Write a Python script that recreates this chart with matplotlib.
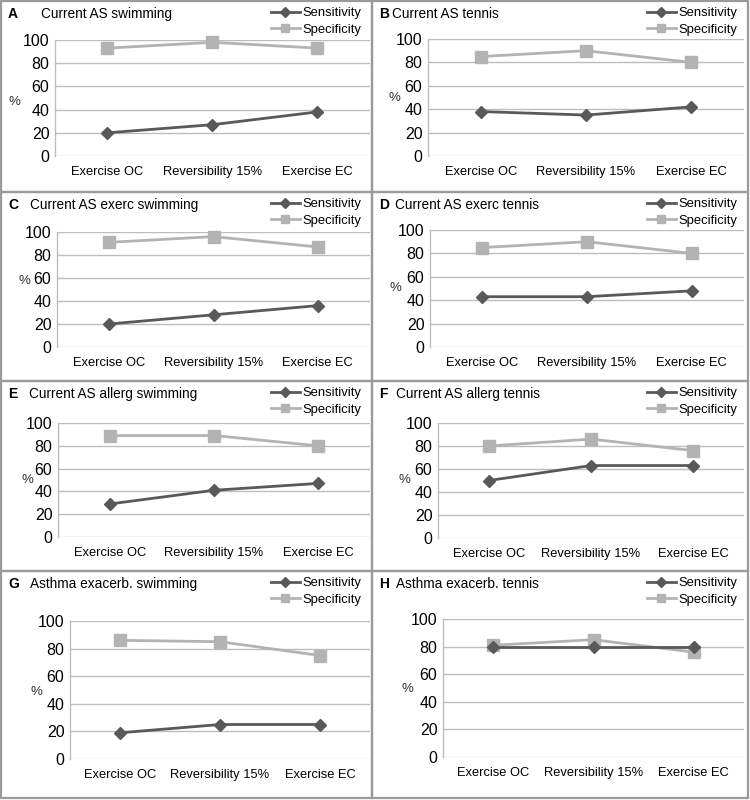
import matplotlib
matplotlib.use("Agg")
import matplotlib.pyplot as plt
from matplotlib.patches import Rectangle

plt.rcParams['font.family'] = ['Liberation Sans', 'DejaVu Sans']

# data
categories = ['Exercise OC', 'Reversibility 15%', 'Exercise EC']
letters = ['A', 'B', 'C', 'D', 'E', 'F', 'G', 'H']
titles = ['Current AS swimming', 'Current AS tennis',
          'Current AS exerc swimming', 'Current AS exerc tennis',
          'Current AS allerg swimming', 'Current AS allerg tennis',
          'Asthma exacerb. swimming', 'Asthma exacerb. tennis']
sensitivity = [
    [20, 27, 38],
    [38, 35, 42],
    [20, 28, 36],
    [43, 43, 48],
    [29, 41, 47],
    [50, 63, 63],
    [19, 25, 25],
    [80, 80, 80],
]
specificity = [
    [93, 98, 93],
    [85, 90, 80],
    [91, 96, 87],
    [85, 90, 80],
    [89, 89, 80],
    [80, 86, 76],
    [86, 85, 75],
    [81, 85, 76],
]
yticks = [0, 20, 40, 60, 80, 100]

W, H = 750, 800
SENS_COLOR = '#595959'
SPEC_COLOR = '#b3b3b3'
GRID_COLOR = '#bdbdbd'
BORDER_COLOR = '#9a9a9a'

# panel frames (pixels, top-left origin)
col_edges = [(1, 372), (372, 748)]
row_edges = [(1, 192), (192, 381), (381, 571), (571, 798)]

# plot areas: left, right, y of 100, y of 0
plot_boxes = [
    (55, 370, 40, 156), (428, 744, 39, 156),
    (57, 370, 232, 347), (430, 744, 230, 347),
    (58, 370, 423, 537), (438, 744, 423, 538),
    (70, 370, 621, 759), (443, 744, 619, 757),
]
title_x = [40, 20, 29, 23, 28, 24, 29, 24]
pct_pos = [(14, 102), (394, 98), (24, 281), (395, 288),
           (27, 480), (404, 480), (36, 692), (407, 689)]


def fx(x):
    return x / W


def fy(y):
    return 1 - y / H


fig = plt.figure(figsize=(W / 100, H / 100), dpi=100)

for i in range(8):
    r, c = divmod(i, 2)
    x0, x1 = col_edges[c]
    y0, y1 = row_edges[r]
    fig.patches.append(Rectangle((fx(x0), fy(y1)), fx(x1 - x0), (y1 - y0) / H,
                                 transform=fig.transFigure, fill=False,
                                 edgecolor=BORDER_COLOR, linewidth=1.6))

    l, rr, t, b = plot_boxes[i]
    ax = fig.add_axes([fx(l), fy(b), fx(rr - l), (b - t) / H])
    xs = range(len(categories))
    ax.plot(xs, specificity[i], color=SPEC_COLOR, lw=2.0, marker='s', ms=8,
            label='Specificity', clip_on=False, zorder=3)
    ax.plot(xs, sensitivity[i], color=SENS_COLOR, lw=2.0, marker='D', ms=6,
            label='Sensitivity', clip_on=False, zorder=4)

    ax.set_xlim(-0.5, 2.5)
    ax.set_ylim(0, 100)
    ax.set_yticks(yticks)
    ax.set_xticks(list(xs))
    ax.set_xticklabels(categories, fontsize=9.3)
    ax.tick_params(axis='y', length=0, pad=4, labelsize=11.5)
    ax.tick_params(axis='x', length=0, pad=7)
    ax.yaxis.grid(True, color=GRID_COLOR, lw=1)
    ax.set_axisbelow(True)
    for s in ['top', 'right', 'bottom']:
        ax.spines[s].set_visible(False)
    ax.spines['left'].set_color(GRID_COLOR)
    ax.spines['left'].set_linewidth(1)

    fig.text(fx(x0 + 7), fy(y0 + 13), letters[i], fontsize=10,
             fontweight='bold', va='center', ha='left')
    fig.text(fx(x0 + title_x[i]), fy(y0 + 13), titles[i], fontsize=9.8,
             va='center', ha='left')
    px, py = pct_pos[i]
    fig.text(fx(px), fy(py), '%', fontsize=9.5, va='center', ha='center',
             color='#333333')

    handles, labels = ax.get_legend_handles_labels()
    ax.legend(handles[::-1], labels[::-1], loc='upper right',
              bbox_to_anchor=(fx(x1 - 11), fy(y0 + 6)),
              bbox_transform=fig.transFigure, frameon=False, fontsize=9.4,
              handlelength=2.2, handletextpad=0.2, labelspacing=0.35,
              borderpad=0, borderaxespad=0, markerscale=0.8)

fig.savefig('out.png', dpi=100, facecolor='white')
